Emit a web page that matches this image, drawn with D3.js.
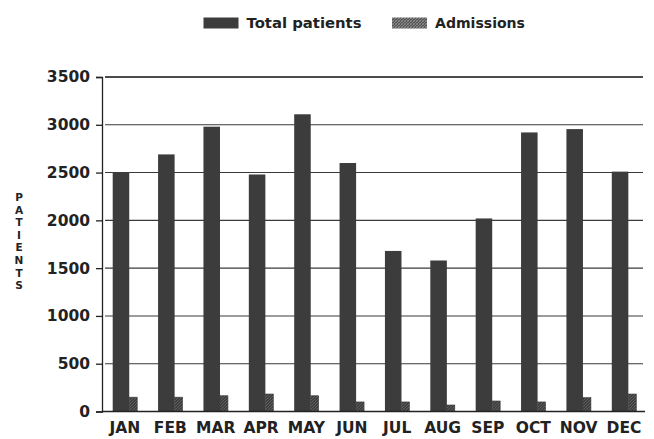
<!DOCTYPE html>
<html>
<head>
<meta charset="utf-8">
<script src="https://cdn.jsdelivr.net/npm/d3@7"></script>
<style>
  body { margin: 0; background: #fff; }
  svg text { font-family: "DejaVu Sans", sans-serif; font-weight: bold; fill: #222; }
</style>
</head>
<body>
<div id="chart"></div>
<script>
// data
const months = ["JAN", "FEB", "MAR", "APR", "MAY", "JUN", "JUL", "AUG", "SEP", "OCT", "NOV", "DEC"];
const totalPatients = [2500, 2690, 2980, 2480, 3110, 2600, 1680, 1580, 2020, 2920, 2955, 2510];
const admissions = [150, 150, 165, 183, 165, 100, 100, 68, 110, 100, 145, 183];
const yTicks = [0, 500, 1000, 1500, 2000, 2500, 3000, 3500];
const seriesNames = ["Total patients", "Admissions"];
const yLabel = "PATIENTS";

const width = 654, height = 439;
const margin = {top: 77, right: 7, bottom: 27.5, left: 102};

let svg = d3.select("#chart").append("svg")
    .attr("width", width)
    .attr("height", height);

// hatch for the admissions bars
let defs = svg.append("defs");
let pat = defs.append("pattern")
    .attr("id", "hatch")
    .attr("patternUnits", "userSpaceOnUse")
    .attr("width", 3)
    .attr("height", 3);
pat.append("rect").attr("width", 3).attr("height", 3).attr("fill", "#3e3e3e");
pat.append("path").attr("d", "M0,3 L3,0").attr("stroke", "#6e6e6e").attr("stroke-width", 0.7);

// legend swatch hatch is a bit lighter
let pat2 = defs.append("pattern")
    .attr("id", "hatch2")
    .attr("patternUnits", "userSpaceOnUse")
    .attr("width", 3)
    .attr("height", 3);
pat2.append("rect").attr("width", 3).attr("height", 3).attr("fill", "#555");
pat2.append("path").attr("d", "M0,3 L3,0").attr("stroke", "#999").attr("stroke-width", 0.8);
pat2.append("path").attr("d", "M0,0 L3,3").attr("stroke", "#888").attr("stroke-width", 0.6);

// scales
let y = d3.scaleLinear()
    .domain([0, 3500])
    .range([height - margin.bottom, margin.top]);

let x = d3.scaleBand()
    .domain(months)
    .range([margin.left, width - margin.right])
    .paddingInner(0.46)
    .paddingOuter(0.236);

// grid lines
svg.append("g")
    .attr("class", "grid")
    .selectAll("line")
    .data(yTicks.filter(d => d > 0))
    .enter().append("line")
    .attr("x1", margin.left + 3)
    .attr("x2", width - 11)
    .attr("y1", d => y(d))
    .attr("y2", d => y(d))
    .attr("stroke", d => d === 3500 ? "#111" : "#3a3a3a")
    .attr("stroke-width", d => d === 3500 ? 1.6 : 1.1);

// y axis
let yAxis = d3.axisLeft(y)
    .tickValues(yTicks)
    .tickFormat(d3.format("d"))
    .tickSize(6)
    .tickPadding(6);

let yG = svg.append("g")
    .attr("transform", `translate(${margin.left}, 0)`)
    .call(yAxis);
yG.select(".domain").attr("stroke", "#222").attr("stroke-width", 1.3);
yG.selectAll(".tick line").attr("stroke", "#222").attr("stroke-width", 1.3);
yG.selectAll("text")
    .style("font-family", "DejaVu Sans, sans-serif")
    .style("font-weight", "bold")
    .style("font-size", "15.5px")
    .attr("fill", "#222");

// bars
let groups = svg.append("g")
    .selectAll(".month")
    .data(months)
    .enter().append("g")
    .attr("class", "month");

let mainW = x.bandwidth() * 0.675;

groups.append("rect")
    .attr("x", d => x(d))
    .attr("y", (d, i) => y(totalPatients[i]))
    .attr("width", mainW)
    .attr("height", (d, i) => y(0) - y(totalPatients[i]))
    .attr("fill", "#3c3c3c");

groups.append("rect")
    .attr("x", d => x(d) + mainW)
    .attr("y", (d, i) => y(admissions[i]))
    .attr("width", x.bandwidth() - mainW)
    .attr("height", (d, i) => y(0) - y(admissions[i]))
    .attr("fill", "url(#hatch)")
    .attr("stroke", "#3c3c3c")
    .attr("stroke-width", 0.6);

// x axis
let xAxis = d3.axisBottom(x)
    .tickSize(0)
    .tickPadding(10);

let xG = svg.append("g")
    .attr("transform", `translate(0, ${y(0)})`)
    .call(xAxis);
xG.select(".domain")
    .attr("d", `M${margin.left},0H${width - 9}`)
    .attr("stroke", "#222")
    .attr("stroke-width", 1.4);
xG.selectAll("text")
    .style("font-family", "DejaVu Sans, sans-serif")
    .style("font-weight", "bold")
    .style("font-size", "15.5px")
    .attr("fill", "#222");

// vertical y label, one letter under another
svg.append("g")
    .selectAll("text")
    .data(yLabel.split(""))
    .enter().append("text")
    .attr("x", 19)
    .attr("y", (d, i) => 201 + i * 12.6)
    .attr("text-anchor", "middle")
    .style("font-size", "10.5px")
    .text(d => d);

// legend
let legend = svg.append("g").attr("class", "legend");
let legendItems = [
    {name: seriesNames[0], x: 203.5, fill: "#3c3c3c", textW: 115},
    {name: seriesNames[1], x: 392, fill: "url(#hatch2)", textW: 90}
];
legendItems.forEach(item => {
    legend.append("rect")
        .attr("x", item.x)
        .attr("y", 17.5)
        .attr("width", 35)
        .attr("height", 11)
        .attr("fill", item.fill);
    legend.append("text")
        .attr("x", item.x + 43)
        .attr("y", 27.5)
        .attr("textLength", item.textW)
        .attr("lengthAdjust", "spacingAndGlyphs")
        .style("font-size", "13.5px")
        .text(item.name);
});
</script>
</body>
</html>
